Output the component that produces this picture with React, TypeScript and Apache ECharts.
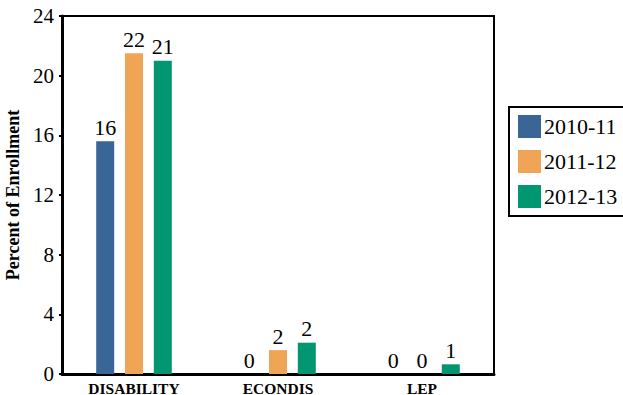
import React, { useEffect, useRef } from "react";
import * as echarts from "echarts";

const categories = ["DISABILITY", "ECONDIS", "LEP"];
const seriesNames = ["2010-11", "2011-12", "2012-13"];
const values2010 = [15.6, 0, 0];
const values2011 = [21.5, 1.6, 0];
const values2012 = [21.0, 2.1, 0.65];
const colors = ["#3A6597", "#F0A556", "#009670"];
const yTicks = { min: 0, max: 24, interval: 4 };

export default function App() {
  const ref = useRef<HTMLDivElement>(null);
  useEffect(() => {
    if (!ref.current) return;
    const chart = echarts.init(ref.current, undefined, { renderer: "svg" });
    const font = "'Liberation Serif', 'Times New Roman', serif";
    const all = [values2010, values2011, values2012];
    chart.setOption({
      animation: false,
      backgroundColor: "#ffffff",
      grid: {
        left: 62,
        top: 16,
        right: 129,
        bottom: 21,
        show: true,
        borderColor: "#000",
        borderWidth: 2,
        containLabel: false,
        outerBoundsMode: "none",
      },
      legend: {
        orient: "vertical",
        left: 509,
        top: 107,
        padding: [8, 12, 8, 9],
        borderColor: "#000",
        borderWidth: 2,
        itemWidth: 23,
        itemHeight: 23,
        itemGap: 12,
        icon: "rect",
        textStyle: { fontFamily: font, fontSize: 22, color: "#000", padding: [0, 0, 0, -2] },
        data: seriesNames,
      },
      xAxis: {
        type: "category",
        data: categories,
        axisLine: { show: true, lineStyle: { color: "#000", width: 3 } },
        axisTick: { show: false },
        axisLabel: {
          fontFamily: font,
          fontWeight: "bold",
          fontSize: 15.5,
          color: "#000",
          margin: 6,
        },
      },
      yAxis: {
        type: "value",
        min: yTicks.min,
        max: yTicks.max,
        interval: yTicks.interval,
        name: "Percent of Enrollment",
        nameLocation: "middle",
        nameGap: 37,
        nameRotate: 90,
        nameTextStyle: { fontFamily: font, fontWeight: "bold", fontSize: 18, color: "#000" },
        axisLine: { show: true, lineStyle: { color: "#000", width: 3 } },
        axisTick: { show: true, length: 3, lineStyle: { color: "#000", width: 2 } },
        splitLine: { show: false },
        axisLabel: { fontFamily: font, fontSize: 21, color: "#000", margin: 8 },
      },
      series: seriesNames.map((name, i) => ({
        name,
        type: "bar",
        data: all[i],
        barWidth: 18,
        barGap: "60%",
        itemStyle: { color: colors[i] },
        label: {
          show: true,
          position: "top",
          distance: 3,
          fontFamily: font,
          fontSize: 22,
          color: "#000",
          formatter: (p: any) => String(Math.round(p.value)),
        },
      })),
    });
    return () => chart.dispose();
  }, []);
  return (
    <div
      ref={ref}
      style={{ position: "absolute", left: 0, top: 0, width: 623, height: 395 }}
    />
  );
}
